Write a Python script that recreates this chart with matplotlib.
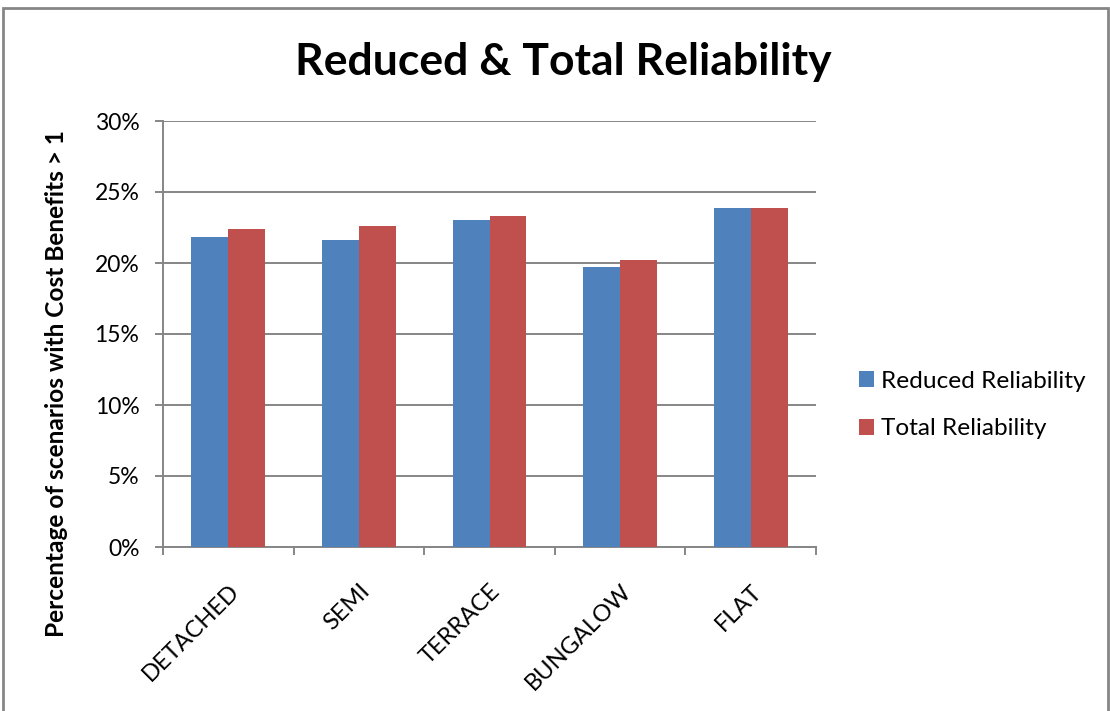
import matplotlib.pyplot as plt
import numpy as np
from matplotlib.patches import Rectangle
from matplotlib.ticker import FuncFormatter, FixedLocator

plt.rcParams['font.family'] = ['Lato', 'DejaVu Sans']

categorias = ['DETACHED', 'SEMI', 'TERRACE', 'BUNGALOW', 'FLAT']
reduced = [21.85, 21.65, 23.05, 19.7, 23.85]
total = [22.4, 22.6, 23.3, 20.2, 23.85]

azul = '#4F81BD'
rojo = '#C0504D'
gris = '#868686'

fig = plt.figure(figsize=(11.1, 7.11), dpi=100)
ax = fig.add_axes([163 / 1110, 164 / 711, 653 / 1110, 426 / 711])

x = np.arange(len(categorias))
ancho = 0.283
ax.bar(x - ancho / 2, reduced, ancho, color=azul, label='Reduced Reliability', zorder=3)
ax.bar(x + ancho / 2, total, ancho, color=rojo, label='Total Reliability', zorder=3)

ax.set_xlim(-0.5, len(categorias) - 0.5)
ax.set_ylim(0, 30)
ax.set_yticks(range(0, 31, 5))
ax.yaxis.set_major_formatter(FuncFormatter(lambda v, p: f'{v:.0f}%'))
ax.grid(axis='y', color=gris, linewidth=1.4, zorder=0)

# etiquetas de categorias centradas, marcas entre categorias
ax.set_xticks(x)
ax.set_xticklabels(categorias, rotation=45, ha='right', rotation_mode='anchor', fontsize=17)
ax.tick_params(axis='x', length=0, pad=24)
ax.xaxis.set_minor_locator(FixedLocator(np.arange(-0.5, len(categorias), 1)))
ax.tick_params(axis='x', which='minor', length=6, color=gris, width=1.4)
ax.tick_params(axis='y', length=6, color=gris, width=1.4, labelsize=16.5, pad=11)

for lado in ['top', 'right']:
    ax.spines[lado].set_visible(False)
for lado in ['left', 'bottom']:
    ax.spines[lado].set_color(gris)
    ax.spines[lado].set_linewidth(1.4)

fig.text(57 / 1110, 1 - 384 / 711, 'Percentage of scenarios with Cost Benefits > 1',
         rotation=90, ha='center', va='center', fontsize=17.6, fontweight='bold')
fig.text(563 / 1110, 1 - 75 / 711, 'Reduced & Total Reliability',
         ha='center', va='baseline', fontsize=32, fontweight='bold')

ax.legend(loc='center left', bbox_to_anchor=(859 / 1110, 1 - 405 / 711),
          bbox_transform=fig.transFigure, frameon=False, borderpad=0, borderaxespad=0,
          fontsize=17.6, handlelength=0.61, handleheight=0.61, handletextpad=0.29,
          labelspacing=1.1)

# borde del grafico
fig.patches.append(Rectangle((0.003, -0.01), 0.995, 0.999, transform=fig.transFigure,
                             fill=False, edgecolor=gris, linewidth=2))

fig.savefig('out.png', dpi=100)
plt.close(fig)
